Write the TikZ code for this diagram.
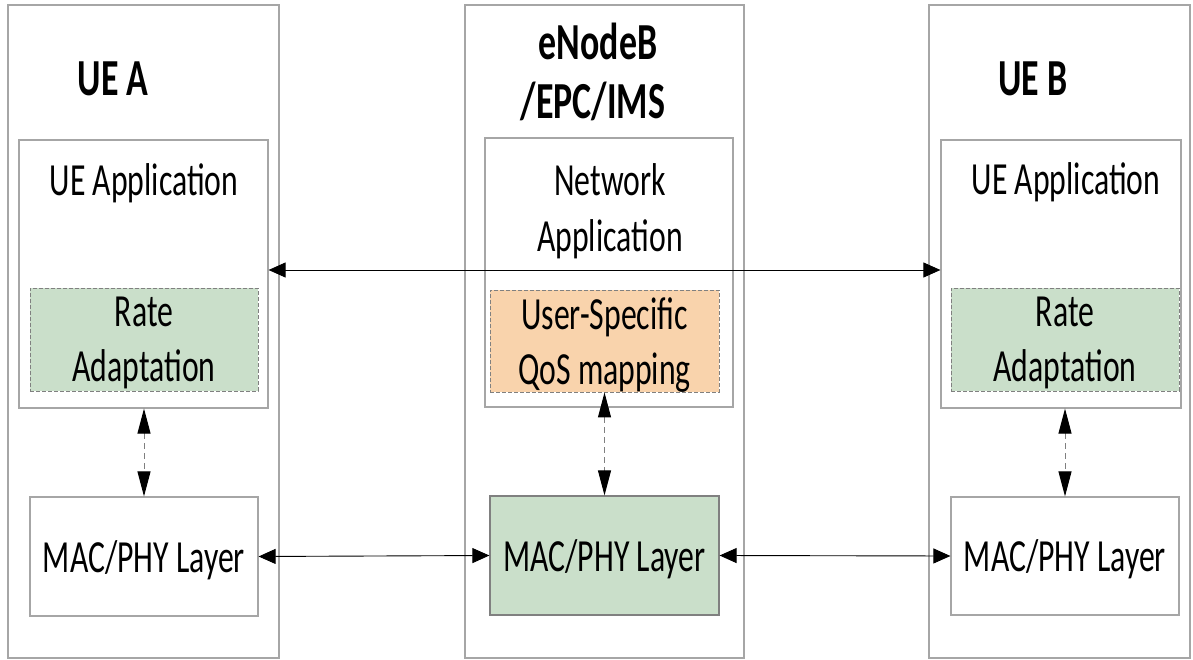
\documentclass[tikz,border=0pt]{standalone}
\usepackage{fontspec}
\setmainfont{Carlito}[FakeStretch=0.69]
\usetikzlibrary{arrows.meta}
\definecolor{boxgray}{HTML}{A6A6A6}
\definecolor{ragreen}{HTML}{CADFCA}
\definecolor{qosorange}{HTML}{F9D3AC}
\tikzset{
  col/.style={draw=boxgray, line width=1.2pt, fill=white, inner sep=0pt},
  inbox/.style={draw=boxgray, line width=1.2pt, fill=white, inner sep=0pt, text depth=0pt, font=\fontsize{46}{55}\selectfont},
  dbox/.style={draw=gray, dashed, dash pattern=on 4pt off 2pt, line width=0.9pt, inner sep=0pt, text depth=0pt, align=center, font=\fontsize{46}{55}\selectfont},
  lbl/.style={inner sep=0pt, font=\fontsize{46}{56}\selectfont, align=center},
  ttl/.style={inner sep=0pt, font=\fontsize{52}{60}\selectfont\bfseries},
  harr/.style={draw=black, line width=0.9pt, {Triangle[length=17pt,width=15pt]}-{Triangle[length=17pt,width=15pt]}},
  varr/.style={draw=gray, line width=1pt, dash pattern=on 6pt off 4pt, {Triangle[length=25pt,width=13pt,fill=black,color=black]}-{Triangle[length=25pt,width=13pt,fill=black,color=black]}},
}
\begin{document}
\begin{tikzpicture}[x=1pt,y=-1pt]
\useasboundingbox (0,0) rectangle (1193,660);
% columns
\node[col, minimum width=271pt, minimum height=653pt] (colA) at (143.5,331.5) {};
\node[col, minimum width=279pt, minimum height=653pt] (colB) at (604.5,331.5) {};
\node[col, minimum width=261pt, minimum height=653pt] (colC) at (1059.5,331.5) {};
% titles
\node[ttl] (tA) at (113,79) {UE A};
\node[ttl] (tB1) at (598,41) {eNodeB};
\node[ttl] (tB2) at (593,101) {/EPC/IMS};
\node[ttl] (tC) at (1033,79) {UE B};
% application boxes
\node[inbox, minimum width=249pt, minimum height=268pt] (appA) at (143.5,274) {};
\node[inbox, minimum width=248pt, minimum height=269pt] (appB) at (609,272.5) {};
\node[inbox, minimum width=240pt, minimum height=268pt] (appC) at (1061,274) {};
\node[lbl] (appAt) at (144,183) {UE Application};
\node[lbl] (appBt) at (610,211) {Network\\Application};
\node[lbl] (appCt) at (1066,182) {UE Application};
% inner function boxes
\node[dbox, fill=ragreen, minimum width=228pt, minimum height=103pt] (rateA) at (144,339.5) {Rate\\Adaptation};
\node[dbox, fill=qosorange, minimum width=229pt, minimum height=102pt] (qos) at (604.5,341) {User-Specific\\QoS mapping};
\node[dbox, fill=ragreen, minimum width=228pt, minimum height=103pt] (rateC) at (1065,339.5) {Rate\\Adaptation};
% MAC/PHY boxes
\node[inbox, minimum width=228pt, minimum height=119pt] (macA) at (144,556.5) {MAC/PHY Layer};
\node[inbox, fill=ragreen, draw=gray, minimum width=229pt, minimum height=119pt] (macB) at (604.5,555.5) {MAC/PHY Layer};
\node[inbox, minimum width=228pt, minimum height=118pt] (macC) at (1065,556) {MAC/PHY Layer};
% connectors
\draw[harr] ([yshift=4pt]appA.east) -- ([yshift=4pt]appC.west);
\draw[harr] (macA.east) -- (macB.west);
\draw[harr] (macB.east) -- (macC.west);
\draw[varr] (macA.north |- appA.south) -- (macA.north);
\draw[varr] (qos.south) -- (macB.north);
\draw[varr] (macC.north |- appC.south) -- (macC.north);
\end{tikzpicture}
\end{document}
